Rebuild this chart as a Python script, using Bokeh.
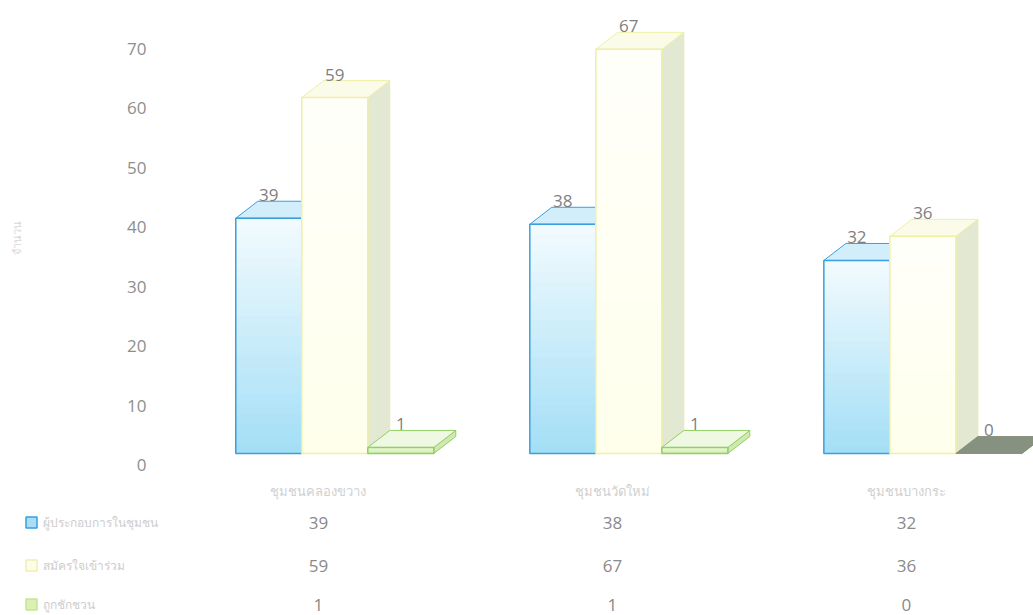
from bokeh.plotting import figure
from bokeh.models import Range1d, LinearAxis, FixedTicker
from bokeh.layouts import column, row
from bokeh.core.properties import value
from bokeh.embed import file_html
from bokeh.resources import INLINE

# ---- data ----
categories = ["ชุมชนคลองขวาง", "ชุมชนวัดใหม่", "ชุมชนบางกระ"]
series_names = ["ผู้ประกอบการในชุมชน", "สมัครใจเข้าร่วม", "ถูกชักชวน"]
series_a = [39, 38, 32]
series_b = [59, 67, 36]
series_c = [1, 1, 0]
y_ticks = [0, 10, 20, 30, 40, 50, 60, 70]
y_title = "จำนวน"

# ---- geometry / style ----
W = 0.2245      # bar width (x units)
OFF0 = -0.281   # left edge of first bar relative to category tick
DX = 0.0748     # depth x
DY = 2.82       # depth y (value units)
FONT = value("Open Sans")
NSTRIP = 24
XR = (-0.503, 2.432)
PXU = 294.0     # pixels per x unit
LEFT = 170

styles = [
    dict(bottom=(163, 222, 246), top=(243, 251, 254), edge="#3a9fde", topc="#d2eefa", side="#bfe6f6", sedge="#3a9fde"),
    dict(bottom=(255, 255, 236), top=(255, 255, 250), edge="#eef0a4", topc="#fbfbea", side="#e2e8d2", sedge="#e8ecb0"),
    dict(bottom=(206, 236, 170), top=(236, 248, 222), edge="#92d062", topc="#eef8e2", side="#cfe9b0", sedge="#92d062"),
]
zero_top = "#87917f"

def hexc(c):
    return "#%02x%02x%02x" % tuple(int(round(v)) for v in c)

p = figure(width=1033, height=505,
           x_range=Range1d(*XR), y_range=Range1d(-3.65, 75.1),
           output_backend="svg", toolbar_location=None,
           x_axis_location="below", y_axis_location=None,
           min_border_left=LEFT, min_border_right=0, min_border_top=0, min_border_bottom=30)
p.outline_line_color = None
p.grid.visible = False
p.background_fill_color = "white"

p.extra_y_ranges = {"lab": Range1d(-1.68, 78.06)}
ax = LinearAxis(y_range_name="lab", ticker=FixedTicker(ticks=y_ticks))
ax.axis_line_color = None
ax.major_tick_line_color = None
ax.minor_tick_line_color = None
ax.major_label_text_font = "Open Sans"
ax.major_label_text_font_size = "17px"
ax.major_label_text_color = "#8e8e8e"
ax.major_label_standoff = 18
ax.axis_label = y_title
ax.axis_label_text_font = "Noto Sans"
ax.axis_label_text_font_size = "11px"
ax.axis_label_text_font_style = "normal"
ax.axis_label_text_color = "#d8d8d8"
ax.axis_label_standoff = 100
p.add_layout(ax, "left")

xa = p.xaxis[0]
xa.ticker = FixedTicker(ticks=list(range(len(categories))))
xa.major_label_overrides = {i: c for i, c in enumerate(categories)}
xa.axis_line_color = None
xa.major_tick_line_color = None
xa.minor_tick_line_color = None
xa.major_label_text_font = "Noto Sans"
xa.major_label_text_font_size = "13px"
xa.major_label_text_color = "#d0d0d0"
xa.major_label_standoff = 0

all_series = [series_a, series_b, series_c]
lab_x, lab_y, lab_t = [], [], []
for gi in range(len(categories)):
    for si, vals in enumerate(all_series):
        v = vals[gi]
        st = styles[si]
        x0 = gi + OFF0 + si * W
        x1 = x0 + W
        # side face
        p.patch([x1, x1 + DX, x1 + DX, x1], [0, DY, v + DY, v],
                fill_color=st["side"], line_color=st["sedge"], line_width=1)
        # top face
        p.patch([x0, x0 + DX, x1 + DX, x1], [v, v + DY, v + DY, v],
                fill_color=(zero_top if v == 0 else st["topc"]),
                line_color=(zero_top if v == 0 else st["edge"]), line_width=1)
        # front face with vertical gradient (overlapping strips, no seams)
        if v > 0:
            bots, cols = [], []
            for k in range(NSTRIP):
                f = (k + 0.5) / NSTRIP
                c = tuple(st["bottom"][j] + (st["top"][j] - st["bottom"][j]) * f for j in range(3))
                bots.append(v * k / NSTRIP)
                cols.append(hexc(c))
            p.quad(left=[x0] * NSTRIP, right=[x1] * NSTRIP, bottom=bots, top=[v] * NSTRIP,
                   fill_color=cols, line_color=None)
            p.quad(left=[x0], right=[x1], bottom=[0], top=[v],
                   fill_color=None, line_color=st["edge"], line_width=1.5)
        lab_x.append(x0 + W / 2)
        lab_y.append(v + DY)
        lab_t.append(str(v))

p.text(x=lab_x, y=lab_y, text=lab_t, text_align="center", text_baseline="bottom",
       text_font=FONT, text_font_size="17px", text_color="#7f7f7f")

# ---- data table below (frame spans the full width) ----
x_left = XR[0] - LEFT / PXU
t = figure(width=1033, height=110,
           x_range=Range1d(x_left, XR[1]), y_range=Range1d(110, 0),
           output_backend="svg", toolbar_location=None,
           x_axis_location=None, y_axis_location=None,
           min_border_left=0, min_border_right=0, min_border_top=0, min_border_bottom=0)
t.outline_line_color = None
t.grid.visible = False

row_y = [17, 60, 99]
sw_x = x_left + 31 / PXU
tx_x = x_left + 42 / PXU
sw_fill = ["#a9dff6", "#fdfde6", "#dcf0b2"]
sw_line = ["#3a9fde", "#eeeeb8", "#c6e597"]
for r, vals in enumerate(all_series):
    t.text(x=list(range(len(categories))), y=[row_y[r]] * len(categories),
           text=[str(v) for v in vals], text_align="center", text_baseline="middle",
           text_font=FONT, text_font_size="17px", text_color="#8a8a8a")
    t.scatter(x=[sw_x], y=[row_y[r]], marker="square", size=11,
              fill_color=sw_fill[r], line_color=sw_line[r], line_width=1.5)
    t.text(x=[tx_x], y=[row_y[r]], text=[series_names[r]], text_align="left",
           text_baseline="middle", text_font=value("Noto Sans"), text_font_size="12px",
           text_color="#cdcdcd")

layout = column(p, row(t), spacing=0)
open("out.html", "w").write(file_html(layout, INLINE))
